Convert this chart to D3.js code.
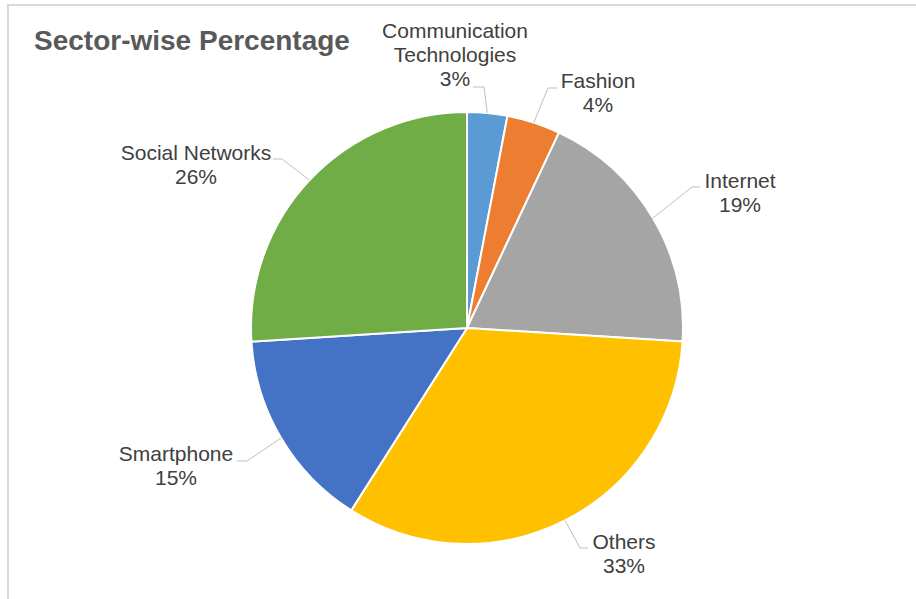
<!DOCTYPE html>
<html>
<head>
<meta charset="utf-8">
<script src="https://cdn.jsdelivr.net/npm/d3@7"></script>
<style>
  html, body { margin: 0; padding: 0; background: #fff; }
  svg { display: block; font-family: "Liberation Sans", Arial, sans-serif; }
</style>
</head>
<body>
<svg id="chart" width="916" height="599"></svg>
<script>
// Sector shares (percent), clockwise from 12 o'clock
const sectors = ["Communication Technologies", "Fashion", "Internet", "Others", "Smartphone", "Social Networks"];
const labelLines = [["Communication", "Technologies"], ["Fashion"], ["Internet"], ["Others"], ["Smartphone"], ["Social Networks"]];
const shares = [3, 4, 19, 33, 15, 26];
const colors = ["#5b9bd5", "#ed7d31", "#a5a5a5", "#ffc000", "#4472c4", "#70ad47"];

// Label placement: text centre x, first baseline y, leader elbow [x, y] and end x
const labelLayout = [
  { x: 455, y: 38, elbow: [484, 87], end: 473 },
  { x: 598, y: 88, elbow: [548, 88], end: 557 },
  { x: 740, y: 188, elbow: [692, 187], end: 700 },
  { x: 624, y: 549, elbow: [580, 548], end: 588 },
  { x: 176, y: 461, elbow: [247, 461], end: 237 },
  { x: 196, y: 160, elbow: [282, 159], end: 273 }
];

const svg = d3.select("#chart");
const cx = 467, cy = 328, radius = 216;

// Chart frame
svg.append("rect")
  .attr("x", 8).attr("y", 5)
  .attr("width", 940).attr("height", 640)
  .attr("fill", "#fff")
  .attr("stroke", "#d9d9d9")
  .attr("stroke-width", 2);

// Title
svg.append("text")
  .attr("x", 34).attr("y", 50)
  .attr("fill", "#595959")
  .attr("font-size", 28)
  .attr("font-weight", "bold")
  .text("Sector-wise Percentage");

const pie = d3.pie().sort(null).value(d => d)(shares);
const arc = d3.arc().innerRadius(0).outerRadius(radius);

const g = svg.append("g").attr("transform", `translate(${cx},${cy})`);

g.selectAll("path.slice")
  .data(pie)
  .join("path")
  .attr("class", "slice")
  .attr("d", arc)
  .attr("fill", (d, i) => colors[i])
  .attr("stroke", "#fff")
  .attr("stroke-width", 2)
  .attr("stroke-linejoin", "round");

// Leader lines from slice edge (mid-angle) to the label
const edgePoint = d => {
  const a = (d.startAngle + d.endAngle) / 2;
  return [cx + radius * Math.sin(a), cy - radius * Math.cos(a)];
};

svg.selectAll("polyline.leader")
  .data(pie)
  .join("polyline")
  .attr("class", "leader")
  .attr("points", (d, i) => {
    const p = edgePoint(d);
    const L = labelLayout[i];
    return [p, L.elbow, [L.end, L.elbow[1]]].map(q => q.join(",")).join(" ");
  })
  .attr("fill", "none")
  .attr("stroke", "#bfbfbf")
  .attr("stroke-width", 1);

// Data labels: category name and percentage
const labels = svg.selectAll("text.lbl")
  .data(pie)
  .join("text")
  .attr("class", "lbl")
  .attr("text-anchor", "middle")
  .attr("font-size", 21)
  .attr("fill", "#404040");

labels.each(function(d, i) {
  const L = labelLayout[i];
  const lines = labelLines[i].concat([d3.format(".0f")(d.data) + "%"]);
  d3.select(this).selectAll("tspan")
    .data(lines)
    .join("tspan")
    .attr("x", L.x)
    .attr("y", (t, j) => L.y + j * 24)
    .text(t => t);
});
</script>
</body>
</html>
